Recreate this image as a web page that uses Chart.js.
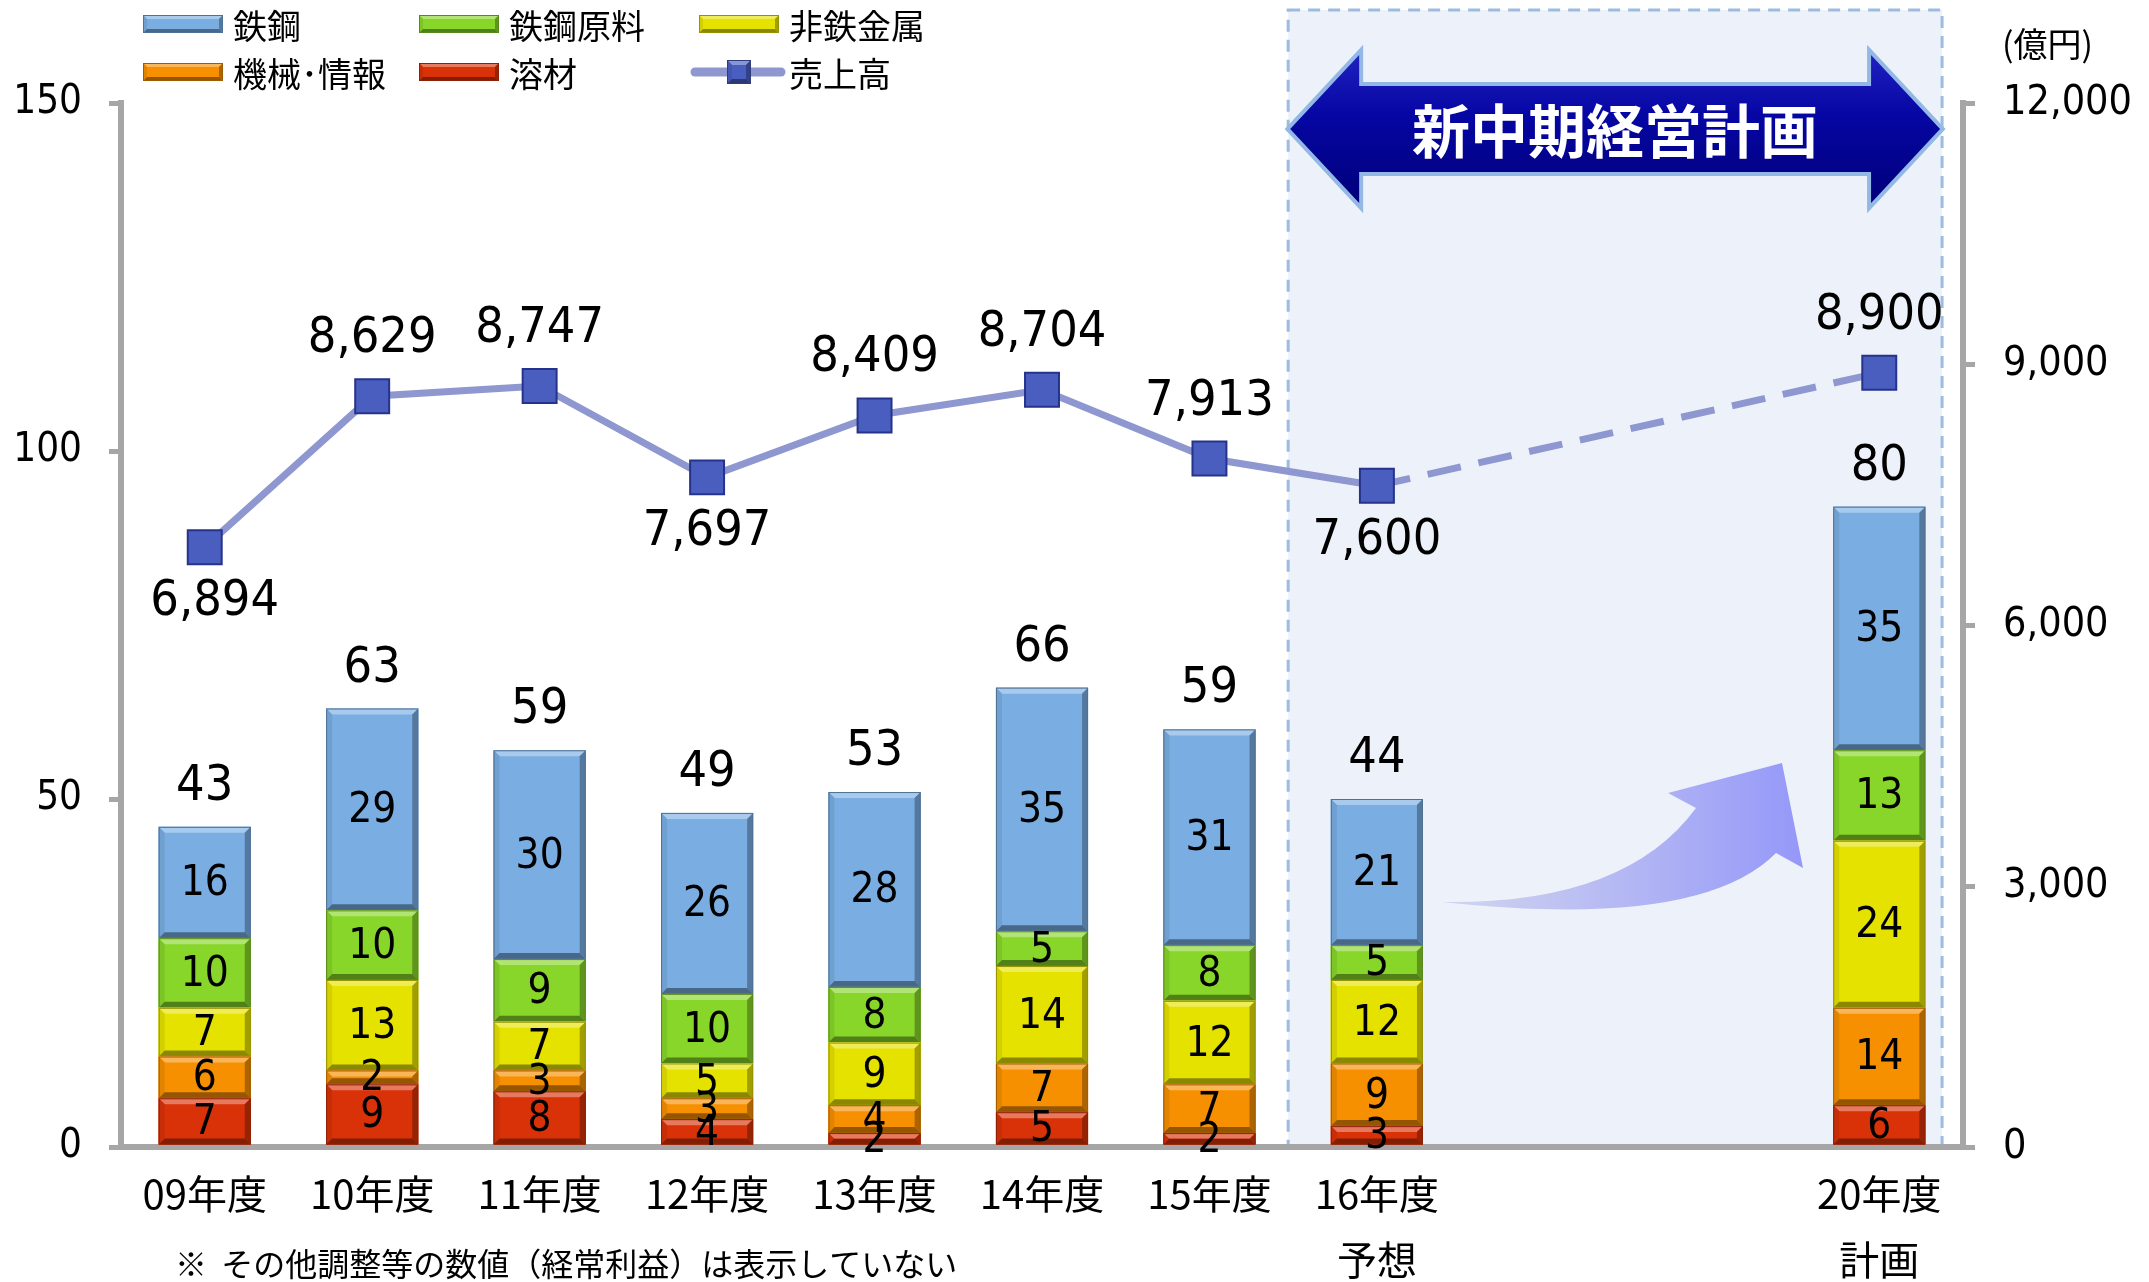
<!DOCTYPE html>
<html lang="ja">
<head>
<meta charset="UTF-8" />
<title>売上高・セグメント別経常利益</title>
<script src="https://cdn.jsdelivr.net/npm/chart.js"></script>
<style>
  html, body { margin: 0; padding: 0; background: #fff; }
  #wrap { width: 2149px; height: 1282px; }
</style>
</head>
<body>
<div id="wrap"><canvas id="chart" width="2149" height="1282"></canvas></div>
<script>
// categories (two empty slots between 16 and 20)
const years = ['09年度', '10年度', '11年度', '12年度', '13年度', '14年度', '15年度', ['16年度', '予想'], '', '', ['20年度', '計画']];

// segment profit (left axis)
const yozai   = [7, 9, 8, 4, 2, 5, 2, 3, null, null, 6];
const kikai   = [6, 2, 3, 3, 4, 7, 7, 9, null, null, 14];
const hitetsu = [7, 13, 7, 5, 9, 14, 12, 12, null, null, 24];
const genryo  = [10, 10, 9, 10, 8, 5, 8, 5, null, null, 13];
const tekko   = [16, 29, 30, 26, 28, 35, 31, 21, null, null, 35];
const profitTotals = [43, 63, 59, 49, 53, 66, 59, 44, null, null, 80];

// sales (right axis)
const sales = [6894, 8629, 8747, 7697, 8409, 8704, 7913, 7600, null, null, 8900];

const leftTicks = [0, 50, 100, 150];
const rightTicks = [0, 3000, 6000, 9000, 12000];

const NUM_FONT = "'DejaVu Sans Condensed', 'DejaVu Sans', sans-serif";
const JP_FONT = "'Noto Sans CJK JP', sans-serif";
const AXIS_GRAY = '#a6a6a6';
const LINE_COLOR = '#8e97cf';

function shade(hex, amt) {
  const n = parseInt(hex.slice(1), 16);
  let r = n >> 16, g = (n >> 8) & 255, b = n & 255;
  if (amt > 0) { r += (255 - r) * amt; g += (255 - g) * amt; b += (255 - b) * amt; }
  else { r *= 1 + amt; g *= 1 + amt; b *= 1 + amt; }
  return `rgb(${r | 0},${g | 0},${b | 0})`;
}

function bevelBox(ctx, l, t, r, btm, color, e) {
  ctx.fillStyle = color;
  ctx.fillRect(l, t, r - l, btm - t);
  const h = btm - t;
  e = Math.min(e, h / 2);
  const poly = (pts, c) => {
    ctx.beginPath();
    ctx.moveTo(pts[0][0], pts[0][1]);
    pts.slice(1).forEach(p => ctx.lineTo(p[0], p[1]));
    ctx.closePath();
    ctx.fillStyle = c;
    ctx.fill();
  };
  poly([[l, t], [r, t], [r - e, t + e], [l + e, t + e]], shade(color, 0.35));
  poly([[l, t], [l + e, t + e], [l + e, btm - e], [l, btm]], shade(color, -0.08));
  poly([[r, t], [r, btm], [r - e, btm - e], [r - e, t + e]], shade(color, -0.3));
  poly([[l, btm], [r, btm], [r - e, btm - e], [l + e, btm - e]], shade(color, -0.4));
  ctx.strokeStyle = shade(color, -0.35);
  ctx.lineWidth = 1;
  ctx.strokeRect(l + 0.5, t + 0.5, r - l - 1, btm - t - 1);
}

const barColors = ['#d93208', '#f79000', '#e6e200', '#88d62a', '#7aaee3'];

const decor = {
  id: 'decor',
  beforeDraw(chart) {
    const { ctx, chartArea: a, scales: { x } } = chart;
    ctx.save();
    ctx.fillStyle = '#fff';
    ctx.fillRect(0, 0, chart.width, chart.height);
    const step = x.getPixelForValue(1) - x.getPixelForValue(0);
    const left = x.getPixelForValue(7) - step * 0.53;
    const right = x.getPixelForValue(10) + step * 0.375;
    ctx.fillStyle = '#edf2fa';
    ctx.fillRect(left, 10, right - left, a.bottom - 10);
    ctx.setLineDash([12, 8]);
    ctx.strokeStyle = '#9dbbe0';
    ctx.lineWidth = 3;
    ctx.strokeRect(left, 10, right - left, a.bottom - 10);
    ctx.setLineDash([]);

    // double arrow header
    const l = left + 2, r = right - 2, cy = 129, hh = 74, bh = 43, hw = 69;
    ctx.beginPath();
    ctx.moveTo(l, cy);
    ctx.lineTo(l + hw, cy - hh); ctx.lineTo(l + hw, cy - bh);
    ctx.lineTo(r - hw, cy - bh); ctx.lineTo(r - hw, cy - hh);
    ctx.lineTo(r, cy);
    ctx.lineTo(r - hw, cy + hh); ctx.lineTo(r - hw, cy + bh);
    ctx.lineTo(l + hw, cy + bh); ctx.lineTo(l + hw, cy + hh);
    ctx.closePath();
    ctx.lineWidth = 8;
    ctx.strokeStyle = '#94b8e6';
    ctx.stroke();
    const g = ctx.createLinearGradient(0, cy - hh, 0, cy + hh);
    g.addColorStop(0, '#2020c0');
    g.addColorStop(0.4, '#0606a4');
    g.addColorStop(1, '#00007a');
    ctx.fillStyle = g;
    ctx.fill();
    ctx.fillStyle = '#fff';
    ctx.font = `bold 58px ${JP_FONT}`;
    ctx.textAlign = 'center';
    ctx.textBaseline = 'middle';
    ctx.fillText('新中期経営計画', (l + r) / 2, cy + 2);

    // curved growth arrow
    const ag = ctx.createLinearGradient(1442, 0, 1800, 0);
    ag.addColorStop(0, 'rgba(206,210,238,0.9)');
    ag.addColorStop(1, '#9598f8');
    ctx.beginPath();
    ctx.moveTo(1442, 902);
    ctx.quadraticCurveTo(1625, 905, 1696, 808);
    ctx.lineTo(1668, 793);
    ctx.lineTo(1782, 763);
    ctx.lineTo(1803, 868);
    ctx.lineTo(1776, 853);
    ctx.quadraticCurveTo(1700, 930, 1442, 902);
    ctx.closePath();
    ctx.fillStyle = ag;
    ctx.fill();
    ctx.restore();
  },
  afterDatasetDraw(chart, args) {
    const ds = chart.data.datasets[args.index];
    if (ds.type === 'line') return;
    const { ctx } = chart;
    ctx.save();
    args.meta.data.forEach((el, j) => {
      if (ds.data[j] == null) return;
      const w = el.width / 2;
      bevelBox(ctx, el.x - w, Math.min(el.y, el.base), el.x + w, Math.max(el.y, el.base), ds.backgroundColor, 6);
    });
    ctx.restore();
  },
  afterDatasetsDraw(chart) {
    const { ctx } = chart;
    ctx.save();
    ctx.fillStyle = '#000';
    ctx.textAlign = 'center';
    ctx.textBaseline = 'middle';
    ctx.font = `42px ${NUM_FONT}`;
    for (let i = 0; i < 5; i++) {
      const meta = chart.getDatasetMeta(i);
      meta.data.forEach((el, j) => {
        const v = chart.data.datasets[i].data[j];
        if (v == null) return;
        ctx.fillText(String(v), el.x, (el.y + el.base) / 2 + 2);
      });
    }
    ctx.font = `50px ${NUM_FONT}`;
    const top = chart.getDatasetMeta(4);
    top.data.forEach((el, j) => {
      if (profitTotals[j] == null) return;
      ctx.fillText(String(profitTotals[j]), el.x, el.y - 40);
    });
    const below = new Set([0, 3, 7]);
    const lm = chart.getDatasetMeta(5);
    lm.data.forEach((el, j) => {
      if (sales[j] == null) return;
      const y = below.has(j) ? el.y + 55 : el.y - 57;
      ctx.fillText(sales[j].toLocaleString('en-US'), el.x + (j === 0 ? 10 : 0), y);
    });
    ctx.restore();
  },
  afterDraw(chart) {
    const { ctx } = chart;
    ctx.save();
    // legend
    const slots = [[143, 24], [419, 24], [699, 24], [143, 72], [419, 72], [699, 72]];
    const order = [4, 3, 2, 1, 0, 5];
    ctx.textAlign = 'left';
    ctx.textBaseline = 'middle';
    ctx.font = `34px ${JP_FONT}`;
    order.forEach((di, k) => {
      const ds = chart.data.datasets[di];
      const [sx, sy] = slots[k];
      if (ds.type === 'line') {
        ctx.strokeStyle = LINE_COLOR;
        ctx.lineWidth = 9;
        ctx.lineCap = 'round';
        ctx.beginPath();
        ctx.moveTo(sx - 4, sy); ctx.lineTo(sx + 82, sy);
        ctx.stroke();
        bevelBox(ctx, sx + 28, sy - 12, sx + 52, sy + 12, '#4a5ec0', 5);
      } else {
        bevelBox(ctx, sx, sy - 9, sx + 80, sy + 9, ds.backgroundColor, 4);
      }
      ctx.fillStyle = '#000';
      ctx.fillText(ds.label, sx + 90, sy + 2);
    });
    // unit and footnote
    ctx.font = `34px ${JP_FONT}`;
    ctx.fillText('(億円)', 2002, 44);
    ctx.font = `32px ${JP_FONT}`;
    ctx.fillText('※  その他調整等の数値（経常利益）は表示していない', 175, 1264);
    ctx.restore();
  }
};

const barSet = (label, data, color) => ({
  type: 'bar', label, data, backgroundColor: color, borderWidth: 0,
  stack: 'p', yAxisID: 'y', order: 1,
  categoryPercentage: 1, barPercentage: 0.55
});

new Chart(document.getElementById('chart'), {
  data: {
    labels: years,
    datasets: [
      barSet('溶材', yozai, barColors[0]),
      barSet('機械･情報', kikai, barColors[1]),
      barSet('非鉄金属', hitetsu, barColors[2]),
      barSet('鉄鋼原料', genryo, barColors[3]),
      barSet('鉄鋼', tekko, barColors[4]),
      {
        type: 'line', label: '売上高', data: sales, yAxisID: 'y2', order: 0,
        borderColor: LINE_COLOR, borderWidth: 7, spanGaps: true, tension: 0,
        pointStyle: 'rect', pointRadius: 24, pointBackgroundColor: '#4a5ec0',
        pointBorderColor: '#26338a', pointBorderWidth: 2,
        segment: { borderDash: c => c.p1DataIndex > 7 ? [34, 18] : undefined }
      }
    ]
  },
  options: {
    responsive: false,
    devicePixelRatio: 1,
    animation: false,
    layout: { padding: { top: 103, left: 0, right: 0, bottom: 0 } },
    plugins: { legend: { display: false }, tooltip: { enabled: false } },
    scales: {
      x: {
        stacked: true,
        grid: { display: false, drawTicks: false },
        border: { display: true, color: AXIS_GRAY, width: 6 },
        ticks: { autoSkip: false, maxRotation: 0, padding: 14, color: '#000',
          font: { family: JP_FONT, size: 40, lineHeight: 1.65 } },
        afterFit: s => { s.height = 135; }
      },
      y: {
        position: 'left', stacked: true, min: 0, max: 150,
        afterBuildTicks: s => { s.ticks = leftTicks.map(v => ({ value: v })); },
        grid: { drawOnChartArea: false, drawTicks: true, tickLength: 12, color: AXIS_GRAY, lineWidth: 5 },
        border: { display: true, color: AXIS_GRAY, width: 6 },
        ticks: { padding: 27, color: '#000', font: { family: NUM_FONT, size: 40 } },
        afterFit: s => { s.width = 121; }
      },
      y2: {
        position: 'right', min: 0, max: 12000,
        afterBuildTicks: s => { s.ticks = rightTicks.map(v => ({ value: v })); },
        grid: { drawOnChartArea: false, drawTicks: true, tickLength: 12, color: AXIS_GRAY, lineWidth: 5 },
        border: { display: true, color: AXIS_GRAY, width: 6 },
        ticks: { padding: 28, color: '#000', font: { family: NUM_FONT, size: 41 },
          callback: v => v.toLocaleString('en-US') },
        afterFit: s => { s.width = 186; }
      }
    }
  },
  plugins: [decor]
});
</script>
</body>
</html>
